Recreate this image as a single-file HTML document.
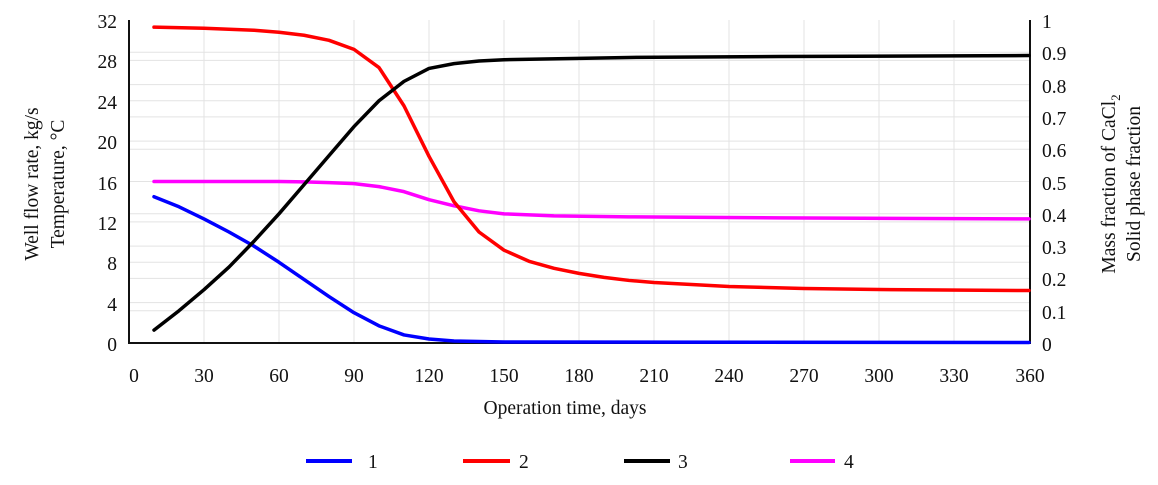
<!DOCTYPE html>
<html><head><style>
body{margin:0;background:#fff;}
svg text{font-family:"Liberation Serif",serif;font-size:19.5px;fill:#111;}
</style></head><body>
<svg width="1158" height="480" viewBox="0 0 1158 480" xmlns="http://www.w3.org/2000/svg">
<g stroke="#e3e3e3" stroke-width="1">
<line x1="129" x2="1029" y1="302.6" y2="302.6"/><line x1="129" x2="1029" y1="262.2" y2="262.2"/><line x1="129" x2="1029" y1="221.9" y2="221.9"/><line x1="129" x2="1029" y1="181.5" y2="181.5"/><line x1="129" x2="1029" y1="141.1" y2="141.1"/><line x1="129" x2="1029" y1="100.7" y2="100.7"/><line x1="129" x2="1029" y1="60.4" y2="60.4"/>
<line x1="129" x2="1029" y1="310.7" y2="310.7"/><line x1="129" x2="1029" y1="278.4" y2="278.4"/><line x1="129" x2="1029" y1="246.1" y2="246.1"/><line x1="129" x2="1029" y1="213.8" y2="213.8"/><line x1="129" x2="1029" y1="149.2" y2="149.2"/><line x1="129" x2="1029" y1="116.9" y2="116.9"/><line x1="129" x2="1029" y1="84.6" y2="84.6"/><line x1="129" x2="1029" y1="52.3" y2="52.3"/>
<line y1="20" y2="343" x1="204" x2="204"/><line y1="20" y2="343" x1="279" x2="279"/><line y1="20" y2="343" x1="354" x2="354"/><line y1="20" y2="343" x1="429" x2="429"/><line y1="20" y2="343" x1="504" x2="504"/><line y1="20" y2="343" x1="579" x2="579"/><line y1="20" y2="343" x1="654" x2="654"/><line y1="20" y2="343" x1="729" x2="729"/><line y1="20" y2="343" x1="804" x2="804"/><line y1="20" y2="343" x1="879" x2="879"/><line y1="20" y2="343" x1="954" x2="954"/>
</g>
<g stroke="#111" stroke-width="2" fill="none">
<polyline points="129,20 129,343 1030,343 1030,20"/>
</g>
<g fill="none" stroke-width="3.5" stroke-linejoin="round" stroke-linecap="round">
<g transform="translate(129,343) scale(2.5,-10.09)">
<polyline vector-effect="non-scaling-stroke" stroke="#ff00ff" points="10,16 40,16 60,16 70,15.97 80,15.9 90,15.8 100,15.5 110,15 120,14.2 130,13.6 140,13.1 150,12.8 170,12.6 200,12.5 260,12.4 360,12.3"/>
<polyline vector-effect="non-scaling-stroke" stroke="#ff0000" points="10,31.3 30,31.2 50,31 60,30.8 70,30.5 80,30 90,29.1 100,27.3 110,23.5 120,18.5 130,14 140,11 150,9.2 160,8.1 170,7.4 180,6.9 190,6.5 200,6.2 210,6 240,5.6 270,5.4 300,5.3 360,5.2"/>
<polyline vector-effect="non-scaling-stroke" stroke="#0000ff" points="10,14.5 20,13.5 30,12.3 40,11 50,9.6 60,8 70,6.3 80,4.6 90,3 100,1.7 110,0.8 120,0.4 130,0.2 150,0.1 360,0.05"/>
</g>
<g transform="translate(129,343) scale(2.5,-323)">
<polyline vector-effect="non-scaling-stroke" stroke="#000" points="10,0.04 20,0.1 30,0.165 40,0.235 50,0.315 60,0.4 70,0.49 80,0.58 90,0.67 100,0.75 110,0.81 120,0.85 130,0.865 140,0.873 150,0.877 200,0.884 260,0.887 360,0.89"/>
</g>
</g>
<g text-anchor="end">
<text x="117" y="351">0</text><text x="117" y="311">4</text><text x="117" y="270">8</text><text x="117" y="230">12</text><text x="117" y="190">16</text><text x="117" y="149">20</text><text x="117" y="109">24</text><text x="117" y="68">28</text><text x="117" y="28">32</text>
</g>
<g>
<text x="1042" y="351">0</text><text x="1042" y="319">0.1</text><text x="1042" y="286">0.2</text><text x="1042" y="254">0.3</text><text x="1042" y="222">0.4</text><text x="1042" y="190">0.5</text><text x="1042" y="157">0.6</text><text x="1042" y="125">0.7</text><text x="1042" y="93">0.8</text><text x="1042" y="60">0.9</text><text x="1042" y="28">1</text>
</g>
<g text-anchor="middle">
<text x="134" y="382">0</text><text x="204" y="382">30</text><text x="279" y="382">60</text><text x="354" y="382">90</text><text x="429" y="382">120</text><text x="504" y="382">150</text><text x="579" y="382">180</text><text x="654" y="382">210</text><text x="729" y="382">240</text><text x="804" y="382">270</text><text x="879" y="382">300</text><text x="954" y="382">330</text><text x="1030" y="382">360</text>
<text x="565" y="414">Operation time, days</text>
<text transform="translate(38,184) rotate(-90)">Well flow rate, kg/s</text>
<text transform="translate(64,184) rotate(-90)">Temperature, °C</text>
<text transform="translate(1115,184) rotate(-90)">Mass fraction of CaCl<tspan font-size="13" dy="5">2</tspan></text>
<text transform="translate(1140,184) rotate(-90)">Solid phase fraction</text>
</g>
<g stroke-width="4">
<line x1="306" x2="352" y1="461" y2="461" stroke="#0000ff"/>
<line x1="463" x2="510" y1="461" y2="461" stroke="#ff0000"/>
<line x1="624" x2="670" y1="461" y2="461" stroke="#000"/>
<line x1="790" x2="835" y1="461" y2="461" stroke="#ff00ff"/>
</g>
<text x="368" y="468">1</text><text x="519" y="468">2</text><text x="678" y="468">3</text><text x="844" y="468">4</text>
</svg>
</body></html>
